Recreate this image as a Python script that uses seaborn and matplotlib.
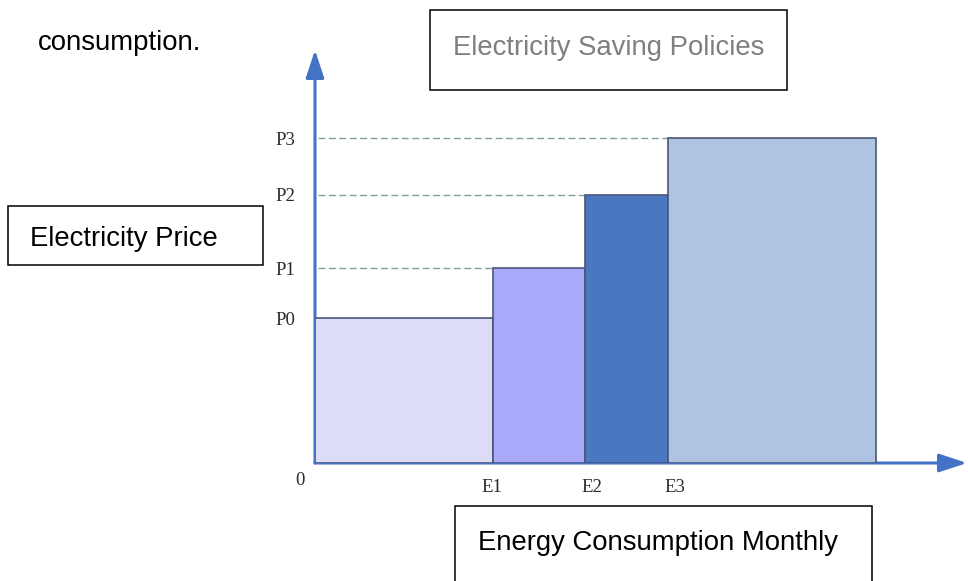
import matplotlib
matplotlib.use("Agg")
import matplotlib.pyplot as plt
from matplotlib.patches import Rectangle, ArrowStyle
import seaborn as sns
import pandas as pd

# Tier boundaries along the monthly energy axis and the price of each tier
tier_edges = [0.0, 3.2, 4.85, 6.35, 10.1]
tier_prices = [4.45, 6.0, 8.25, 10.0]
price_labels = ["P0", "P1", "P2", "P3"]
energy_labels = ["E1", "E2", "E3"]
tier_colors = ["#dcdcf7", "#a9a9f9", "#4a78c0", "#afc4e3"]

sns.set_theme(style="white")
plt.rcParams["font.family"] = ["Liberation Sans", "DejaVu Sans"]

W, H = 968, 581
fig = plt.figure(figsize=(W / 100, H / 100), dpi=100)


def px_box(x0, y0, x1, y1):
    """Figure-fraction rectangle from pixel corners (y measured from the top)."""
    return [x0 / W, 1 - y1 / H, (x1 - x0) / W, (y1 - y0) / H]


ax = fig.add_axes(px_box(315, 50, 967, 463))
ax.patch.set_alpha(0)

tiers = pd.DataFrame({
    "energy": [(a + b) / 2 for a, b in zip(tier_edges[:-1], tier_edges[1:])],
    "price": tier_prices,
})
sns.histplot(data=tiers, x="energy", weights="price", bins=tier_edges, ax=ax,
             stat="count", edgecolor="#4d5577", linewidth=1.2, zorder=3)
for patch, color in zip(ax.patches, tier_colors):
    patch.set_facecolor(color)
    patch.set_alpha(1)

ax.set_xlim(0, 11.73)
ax.set_ylim(0, 12.71)
ax.set_xlabel("")
ax.set_ylabel("")
for s in ax.spines.values():
    s.set_visible(False)
ax.grid(False)

# Arrowed axes
axis_blue = "#4472c4"
head = ArrowStyle("-|>", head_length=0.85, head_width=0.28)
for end in [(1, 0), (0, 1)]:
    ax.annotate("", xy=end, xytext=(0, 0), xycoords="axes fraction",
                arrowprops=dict(arrowstyle=head, mutation_scale=20, lw=2.2,
                                color=axis_blue, shrinkA=0, shrinkB=0),
                zorder=2, annotation_clip=False)

# Dashed guides from the price axis to each tier step
for price, edge in zip(tier_prices[1:], tier_edges[1:4]):
    ax.plot([0.06, edge], [price, price], color="#7fa294", lw=1.0,
            ls=(0, (5, 2.5)), zorder=1)

serif = dict(family=["Liberation Serif", "DejaVu Serif"], size=13.5, color="#2b2b2b")
ax.set_yticks(tier_prices, price_labels, **serif)
ax.tick_params(axis="y", length=0, pad=14)
ax.set_xticks([])
# Energy tier labels sit just right of each step
for edge, label, dx in zip(tier_edges[1:4], energy_labels, [-1, 5, 5]):
    ax.annotate(label, xy=(edge, 0), xytext=(dx, -18), textcoords="offset points",
                ha="center", va="center", **serif)
ax.annotate("0", xy=(0, 0), xytext=(-11, -12.5), textcoords="offset points",
            ha="center", va="center", **serif)

# Annotation boxes around the chart
for box in [(430, 10, 787, 90), (8, 206, 263, 265), (455, 506, 872, 595)]:
    fig.add_artist(Rectangle(px_box(*box)[:2], *px_box(*box)[2:],
                             transform=fig.transFigure, fill=False,
                             ec="black", lw=1.1, clip_on=False))

big = dict(fontsize=19.8, va="baseline")
fig.text(609 / W, 1 - 55 / H, "Electricity Saving Policies", ha="center",
         color="#7f7f7f", **big)
fig.text(30 / W, 1 - 246 / H, "Electricity Price", ha="left", color="black", **big)
fig.text(658 / W, 1 - 550 / H, "Energy Consumption Monthly", ha="center",
         color="black", **big)
fig.text(38 / W, 1 - 50 / H, "consumption.", ha="left", color="black", **big)

fig.savefig("out.png", dpi=100)
